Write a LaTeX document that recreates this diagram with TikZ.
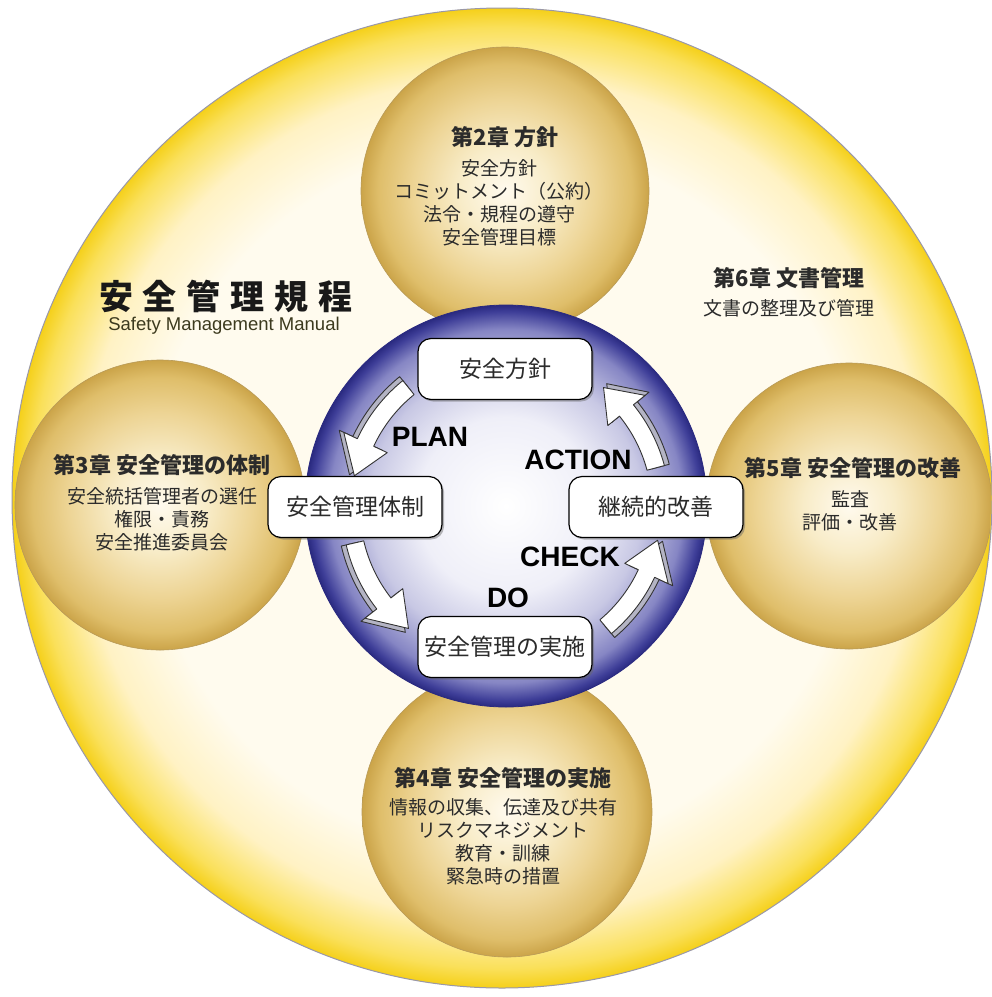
\documentclass[tikz,border=0pt]{standalone}
\usepackage{fontspec}
\usetikzlibrary{shadows}
\newfontfamily\jp{Noto Sans CJK JP}
\newfontfamily\lat{Liberation Sans}
\definecolor{ocream}{HTML}{FFFBEE}
\definecolor{omid}{HTML}{FFF2C4}
\definecolor{oyel}{HTML}{FAE05A}
\definecolor{oedge}{HTML}{F5D01A}
\definecolor{ringline}{HTML}{9A98A8}
\definecolor{spa}{HTML}{FFFAEE}
\definecolor{spb}{HTML}{F8ECC8}
\definecolor{spc}{HTML}{EDD494}
\definecolor{spd}{HTML}{DFBE6A}
\definecolor{spe}{HTML}{CBA449}
\definecolor{spline}{HTML}{B89A58}
\definecolor{bla}{HTML}{FFFFFF}
\definecolor{blb}{HTML}{EFEFF8}
\definecolor{blc}{HTML}{C8C8E4}
\definecolor{bld}{HTML}{8686C4}
\definecolor{ble}{HTML}{3E3E98}
\definecolor{blf}{HTML}{2A2A80}
\definecolor{txt}{HTML}{2B2B2B}
\definecolor{subtxt}{HTML}{3C3A1E}
\definecolor{arrowside}{HTML}{B4B4C4}
\definecolor{arrowline}{HTML}{333333}
\pgfdeclareradialshading{outerring}{\pgfpoint{0bp}{0bp}}{color(0bp)=(ocream); color(18bp)=(ocream); color(21.5bp)=(omid); color(24bp)=(oyel); color(25bp)=(oedge); color(50bp)=(oedge)}
\pgfdeclareradialshading{goldsphere}{\pgfpoint{0bp}{0bp}}{color(0bp)=(spa); color(8bp)=(spb); color(16bp)=(spc); color(22bp)=(spd); color(25bp)=(spe); color(50bp)=(spe)}
\pgfdeclareradialshading{bluecore}{\pgfpoint{0bp}{0bp}}{color(0bp)=(bla); color(11bp)=(blb); color(17bp)=(blc); color(22bp)=(bld); color(24.2bp)=(ble); color(25bp)=(blf); color(50bp)=(blf)}
\tikzset{
  sphere/.style={circle, inner sep=0pt, shading=goldsphere, draw=spline, line width=0.6pt},
  stepbox/.style={draw=black, line width=1.2pt, fill=white, rounded corners=13pt,
    minimum width=174pt, minimum height=61pt, inner sep=0pt,
    font=\jp\fontsize{23}{26}\selectfont, text=txt,
    drop shadow={shadow xshift=2pt, shadow yshift=-2pt, opacity=0.45, fill=black!60}},
  pdca/.style={font=\lat\bfseries\fontsize{28}{30}\selectfont, text=black, inner sep=0pt},
  chaphead/.style={font=\jp\bfseries\fontsize{22}{26}\selectfont, text=txt, inner sep=0pt},
  chapbody/.style={font=\jp\fontsize{19}{23}\selectfont, text=txt, align=center, inner sep=0pt},
  blockarrow/.style={fill=white, draw=arrowline, line width=0.9pt, line join=round},
  blockside/.style={fill=arrowside, draw=arrowline, line width=0.9pt, line join=round}
}
\newcommand\pdcaarrow[3]{%
  \begin{scope}[shift={(506,508)}]
    \path[blockside] plot[domain=#1:#2, samples=24] (\x:169) -- (#2:184) -- (#3:160) -- (#2:136) -- plot[domain=#2:#1, samples=24] (\x:151) -- cycle;
    \path[blockarrow] plot[domain=#1:#2, samples=24] (\x:164) -- (#2:179) -- (#3:155) -- (#2:131) -- plot[domain=#2:#1, samples=24] (\x:146) -- cycle;
  \end{scope}}
\begin{document}
\begin{tikzpicture}[x=1pt,y=-1pt]
\useasboundingbox (0,0) rectangle (992,997);
\fill[white] (0,0) rectangle (992,997);
% outer disc
\node[circle, inner sep=0pt, minimum size=980pt, shading=outerring, draw=ringline, line width=1pt] (outer) at (502,498) {};
% chapter spheres
\begin{scope}
  \clip (502,498) circle[radius=489pt];
  \node[sphere, minimum size=288pt] (s2) at (505,191) {};
  \node[sphere, minimum size=290pt] (s3) at (160,505) {};
  \node[sphere, minimum size=286pt] (s5) at (849,506) {};
  \node[sphere, minimum size=290pt] (s4) at (507,812) {};
\end{scope}
% central disc
\node[circle, inner sep=0pt, minimum size=402pt, shading=bluecore, draw=blf, line width=0.8pt] (core) at (506,506) {};
% cycle arrows
\pdcaarrow{231}{205}{192}
\pdcaarrow{167}{142}{129}
\pdcaarrow{50}{25}{12}
\pdcaarrow{-15}{-39}{-51}
% boxes
\node[stepbox] (policy) at (505,369) {安全方針};
\node[stepbox] (system) at (355,507) {安全管理体制};
\node[stepbox] (improve) at (656,507) {継続的改善};
\node[stepbox] (implement) at (505,647) {安全管理の実施};
% PDCA labels
\node[pdca] (plan) at (430,437) {PLAN};
\node[pdca] (action) at (578,460) {ACTION};
\node[pdca] (check) at (570,557) {CHECK};
\node[pdca] (do) at (508,598) {DO};
% title
\node[font=\jp\bfseries\fontsize{34}{38}\selectfont, text=black!90, inner sep=0pt] (title) at (226,296)
  {安\hspace{10pt}全\hspace{10pt}管\hspace{10pt}理\hspace{10pt}規\hspace{10pt}程};
\node[font=\lat\fontsize{18.5}{20}\selectfont, text=subtxt, inner sep=0pt] (subtitle) at (224,326) {Safety Management Manual};
% chapter texts
\node[chaphead] (h2) at (505,137) {第2章 方針};
\node[chapbody] (b2) at (499,203) {安全方針\\コミットメント（公約）\\法令・規程の遵守\\安全管理目標};
\node[chaphead] (h3) at (162,465) {第3章 安全管理の体制};
\node[chapbody] (b3) at (162,519) {安全統括管理者の選任\\権限・責務\\安全推進委員会};
\node[chaphead] (h5) at (853,468) {第5章 安全管理の改善};
\node[chapbody] (b5) at (850,511) {監査\\評価・改善};
\node[chaphead] (h4) at (503,778) {第4章 安全管理の実施};
\node[chapbody] (b4) at (503,842) {情報の収集、伝達及び共有\\リスクマネジメント\\教育・訓練\\緊急時の措置};
\node[chaphead] (h6) at (789,278) {第6章 文書管理};
\node[chapbody] (b6) at (789,308) {文書の整理及び管理};
\end{tikzpicture}
\end{document}
